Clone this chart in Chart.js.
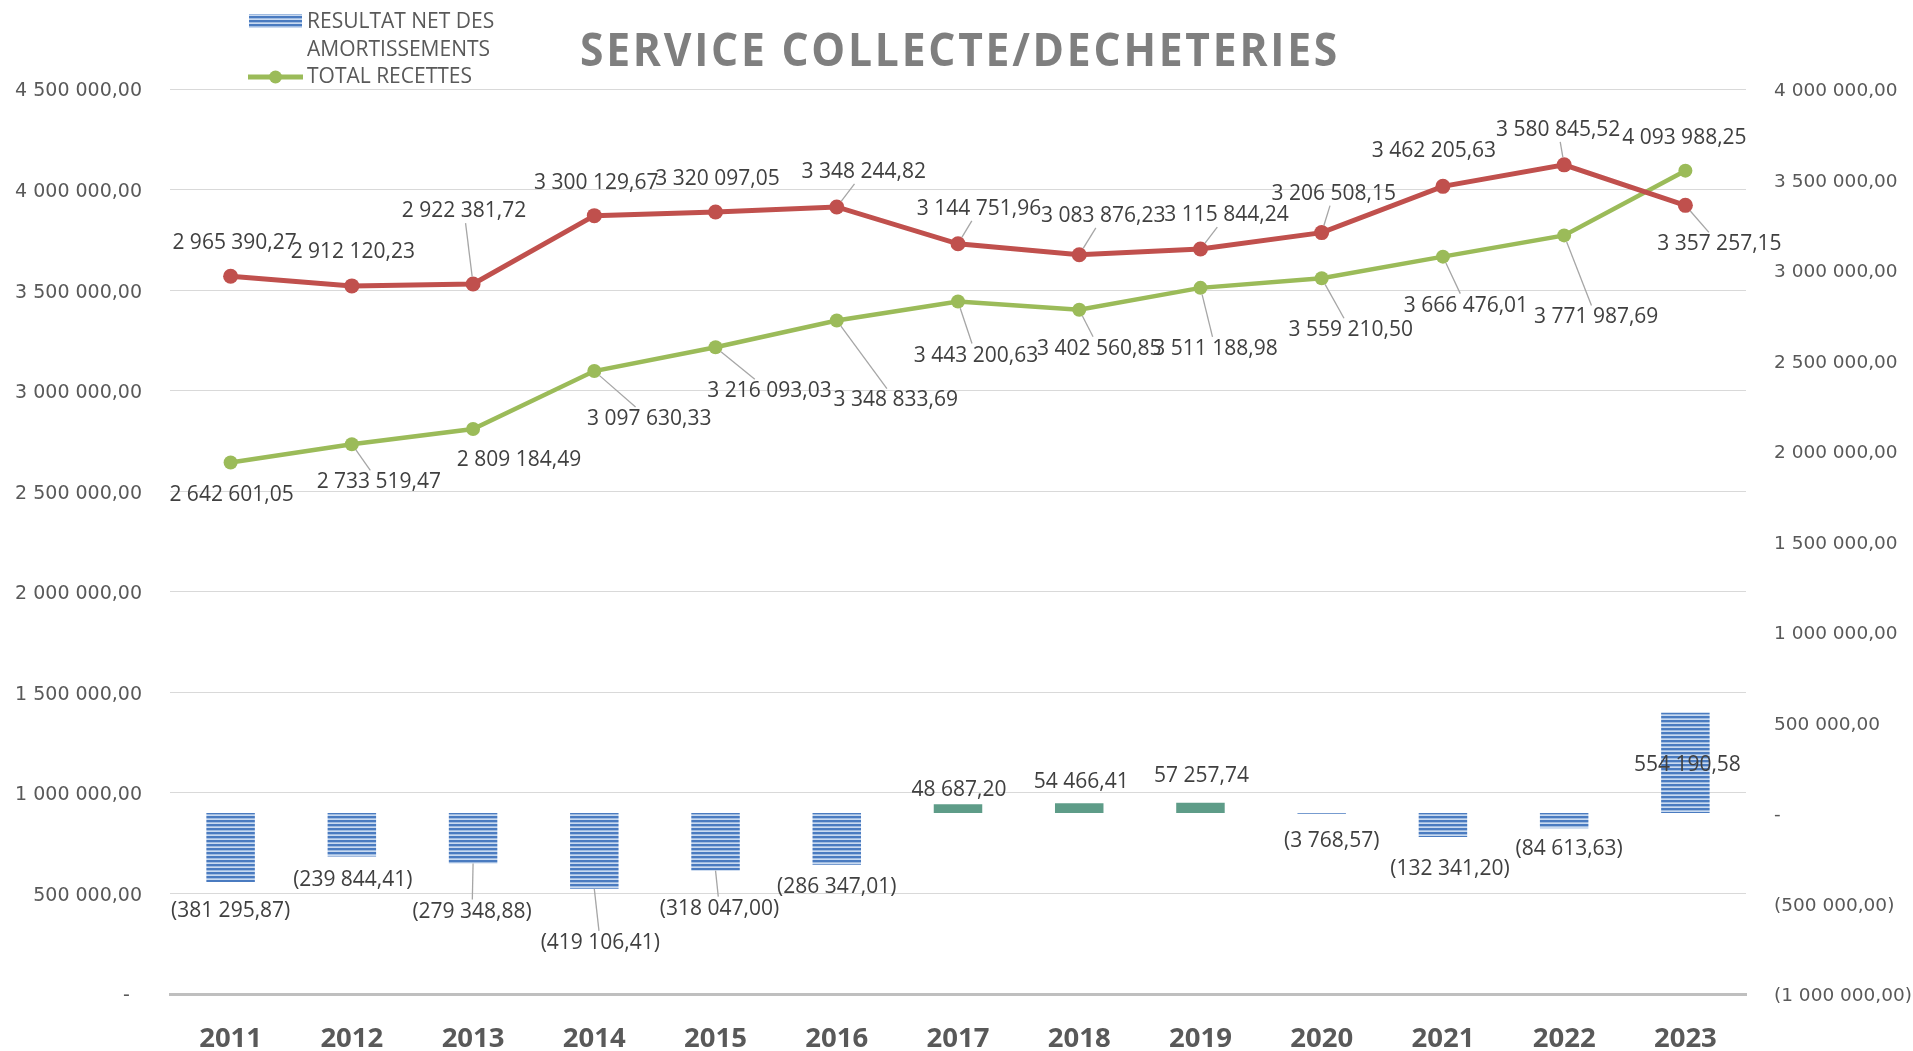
<!DOCTYPE html>
<html>
<head>
<meta charset="utf-8">
<script src="https://cdn.jsdelivr.net/npm/chart.js@4.4.1/dist/chart.umd.min.js"></script>
<style>
html,body{margin:0;padding:0;background:#ffffff;}
#wrap{position:relative;width:1913px;height:1051px;}
</style>
</head>
<body>
<div id="wrap"><canvas id="c"></canvas></div>
<script>
// ---------- DATA ----------
const years = ['2011','2012','2013','2014','2015','2016','2017','2018','2019','2020','2021','2022','2023'];
const resultatNet = [-381295.87, -239844.41, -279348.88, -419106.41, -318047.00, -286347.01, 48687.20, 54466.41, 57257.74, -3768.57, -132341.20, -84613.63, 554190.58];
const totalRecettes = [2642601.05, 2733519.47, 2809184.49, 3097630.33, 3216093.03, 3348833.69, 3443200.63, 3402560.85, 3511188.98, 3559210.50, 3666476.01, 3771987.69, 4093988.25];
const totalDepenses = [2965390.27, 2912120.23, 2922381.72, 3300129.67, 3320097.05, 3348244.82, 3144751.96, 3083876.23, 3115844.24, 3206508.15, 3462205.63, 3580845.52, 3357257.15];
const leftTickLabels = ['-  ', '500 000,00', '1 000 000,00', '1 500 000,00', '2 000 000,00', '2 500 000,00', '3 000 000,00', '3 500 000,00', '4 000 000,00', '4 500 000,00'];
const rightTickLabels = ['(1 000 000,00)', '(500 000,00)', '-', '500 000,00', '1 000 000,00', '1 500 000,00', '2 000 000,00', '2 500 000,00', '3 000 000,00', '3 500 000,00', '4 000 000,00'];
const titleText = 'SERVICE COLLECTE/DECHETERIES';
const legendBarText = ['RESULTAT NET DES', 'AMORTISSEMENTS'];
const legendLineText = 'TOTAL RECETTES';

// ---------- LABEL PLACEMENT (style, px offsets from the mark) ----------
const barLabelOffsets = [[0,29],[1,24],[-1,48],[6,54],[4,38],[0,22],[1,-14],[2,-21],[1,-27],[10,27],[7,32],[5,21],[2,52]];
const barLabelLeaders = [0,0,1,1,1,0,0,0,0,0,0,0,0];
const greenLabelOffsets = [[1,32],[27,38],[46,31],[55,48],[54,44],[59,80],[18,54],[20,39],[15,61],[29,52],[23,49],[32,82],[-1,-33]];
const greenLabelLeaders = [0,1,0,1,1,1,1,1,1,1,1,1,0];
const redLabelOffsets = [[4,-33],[1,-34],[-9,-73],[2,-33],[2,-33],[27,-35],[21,-35],[24,-39],[26,-34],[12,-39],[-9,-35],[-6,-35],[34,39]];
const redLabelLeaders = [0,0,1,0,0,1,1,1,1,1,0,1,1];

// ---------- HELPERS ----------
function fmtNum(v){
  const a = Math.abs(v).toFixed(2).split('.');
  const intPart = a[0].replace(/\B(?=(\d{3})+(?!\d))/g, ' ');
  const s = intPart + ',' + a[1];
  return v < 0 ? '(' + s + ')' : s;
}
function stripePattern(){
  const c = document.createElement('canvas');
  c.width = 8; c.height = 4;
  const x = c.getContext('2d');
  x.fillStyle = '#C9DAF0'; x.fillRect(0,0,8,4);
  x.fillStyle = '#4A7BC0'; x.fillRect(0,0,8,2);
  x.fillStyle = '#86A8D8'; x.fillRect(0,2,8,0.6);
  return document.createElement('canvas').getContext('2d').createPattern(c,'repeat');
}
const stripes = stripePattern();
const barColors = resultatNet.map(v => (v > 0 && v < 100000) ? '#5E9C88' : stripes);

const RED = '#C0504D', GREEN = '#9BBB59';
const LABEL_FONT = '21px "Open Sans"';
const LABEL_COLOR = '#404040';

// ---------- PLUGINS ----------
const titlePlugin = {
  id: 'customTitle',
  afterDraw(chart){
    const ctx = chart.ctx;
    ctx.save();
    ctx.font = 'bold 46px "Open Sans"';
    try { ctx.letterSpacing = '3px'; } catch(e){}
    const w = ctx.measureText(titleText).width;
    const target = 760;
    const sx = target / w;
    ctx.translate(960, 53);
    ctx.scale(sx, 1);
    ctx.fillStyle = '#7F7F7F';
    ctx.textAlign = 'center';
    ctx.textBaseline = 'middle';
    ctx.fillText(titleText, 0, 0);
    ctx.restore();
  }
};

const legendPlugin = {
  id: 'customLegend',
  afterDraw(chart){
    const ctx = chart.ctx;
    ctx.save();
    ctx.fillStyle = stripes;
    ctx.fillRect(249, 14, 53, 14);
    ctx.strokeStyle = GREEN; ctx.lineWidth = 5; ctx.lineCap = 'butt';
    ctx.beginPath(); ctx.moveTo(248, 77); ctx.lineTo(303, 77); ctx.stroke();
    ctx.fillStyle = GREEN;
    ctx.beginPath(); ctx.arc(275.5, 77, 6.5, 0, Math.PI*2); ctx.fill();
    ctx.font = '21px "Open Sans"';
    ctx.fillStyle = '#595959';
    ctx.textAlign = 'left';
    ctx.textBaseline = 'middle';
    ctx.fillText(legendBarText[0], 307, 22);
    ctx.fillText(legendBarText[1], 307, 50);
    ctx.fillText(legendLineText, 307, 77);
    ctx.restore();
  }
};

const cfgByDataset = [
  { offsets: barLabelOffsets, leaders: barLabelLeaders, r: 0 },
  { offsets: greenLabelOffsets, leaders: greenLabelLeaders, r: 7 },
  { offsets: redLabelOffsets, leaders: redLabelLeaders, r: 7.5 }
];

const labelPlugin = {
  id: 'valueLabels',
  afterDatasetsDraw(chart){
    const ctx = chart.ctx;
    ctx.save();
    ctx.font = LABEL_FONT;
    ctx.textAlign = 'center';
    ctx.textBaseline = 'middle';
    chart.data.datasets.forEach((ds, di) => {
      const meta = chart.getDatasetMeta(di);
      const cfg = cfgByDataset[di];
      meta.data.forEach((el, i) => {
        const px = el.x, py = el.y;
        const off = cfg.offsets[i];
        const cx = px + off[0], cy = py + off[1];
        const text = fmtNum(ds.data[i]);
        const w = ctx.measureText(text).width;
        if (cfg.leaders[i]) {
          const dx = cx - px, dy = cy - py;
          const len = Math.hypot(dx, dy);
          const hw = w/2 + 2, hh = 12;
          const s = Math.min(dx !== 0 ? hw/Math.abs(dx) : Infinity, dy !== 0 ? hh/Math.abs(dy) : Infinity);
          const ex = cx - dx*s, ey = cy - dy*s;
          const sx0 = px + dx/len*cfg.r, sy0 = py + dy/len*cfg.r;
          ctx.strokeStyle = '#A6A6A6';
          ctx.lineWidth = 1.3;
          ctx.beginPath(); ctx.moveTo(sx0, sy0); ctx.lineTo(ex, ey); ctx.stroke();
        }
        ctx.fillStyle = LABEL_COLOR;
        ctx.fillText(text, cx, cy);
      });
    });
    ctx.restore();
  }
};

// ---------- CHART ----------
new Chart(document.getElementById('c'), {
  data: {
    labels: years,
    datasets: [
      {
        type: 'bar',
        label: 'RESULTAT NET DES AMORTISSEMENTS',
        data: resultatNet,
        yAxisID: 'y1',
        backgroundColor: barColors,
        borderWidth: 0,
        barPercentage: 0.4,
        categoryPercentage: 1.0,
        order: 3
      },
      {
        type: 'line',
        label: 'TOTAL RECETTES',
        data: totalRecettes,
        yAxisID: 'y',
        borderColor: GREEN,
        backgroundColor: GREEN,
        borderWidth: 4.5,
        pointRadius: 7,
        pointBorderWidth: 0,
        pointBackgroundColor: GREEN,
        tension: 0,
        order: 2
      },
      {
        type: 'line',
        label: 'TOTAL DEPENSES',
        data: totalDepenses,
        yAxisID: 'y1',
        borderColor: RED,
        backgroundColor: RED,
        borderWidth: 5,
        pointRadius: 7.5,
        pointBorderWidth: 0,
        pointBackgroundColor: RED,
        tension: 0,
        order: 1
      }
    ]
  },
  options: {
    responsive: true,
    maintainAspectRatio: false,
    animation: false,
    events: [],
    layout: { padding: { top: 89, left: 0, right: 0, bottom: 0 } },
    plugins: {
      legend: { display: false },
      title: { display: false },
      tooltip: { enabled: false }
    },
    scales: {
      x: {
        offset: true,
        grid: { display: false, drawTicks: false },
        border: { display: true, color: '#BFBFBF', width: 3 },
        ticks: {
          padding: 29, autoSkip: false, maxRotation: 0,
          color: '#595959',
          font: { family: '"Open Sans"', weight: 'bold', size: 27.5 }
        },
        afterFit(s){ s.height = 57; }
      },
      y: {
        position: 'left',
        min: 0, max: 4500000,
        grid: { color: '#D9D9D9', lineWidth: 1, drawTicks: false },
        border: { display: false },
        ticks: {
          stepSize: 500000, padding: 28, labelOffset: 2.5,
          color: '#595959',
          font: { family: '"DejaVu Sans"', size: 19 },
          callback: (v, i) => leftTickLabels[i]
        },
        afterFit(s){ s.width = 170; }
      },
      y1: {
        position: 'right',
        min: -1000000, max: 4000000,
        grid: { display: false, drawTicks: false },
        border: { display: false },
        ticks: {
          stepSize: 500000, padding: 28, labelOffset: 2.5,
          color: '#595959',
          font: { family: '"DejaVu Sans"', size: 18.5 },
          callback: (v, i) => rightTickLabels[i]
        },
        afterFit(s){ s.width = 167; }
      }
    }
  },
  plugins: [labelPlugin, legendPlugin, titlePlugin]
});
</script>
</body>
</html>
